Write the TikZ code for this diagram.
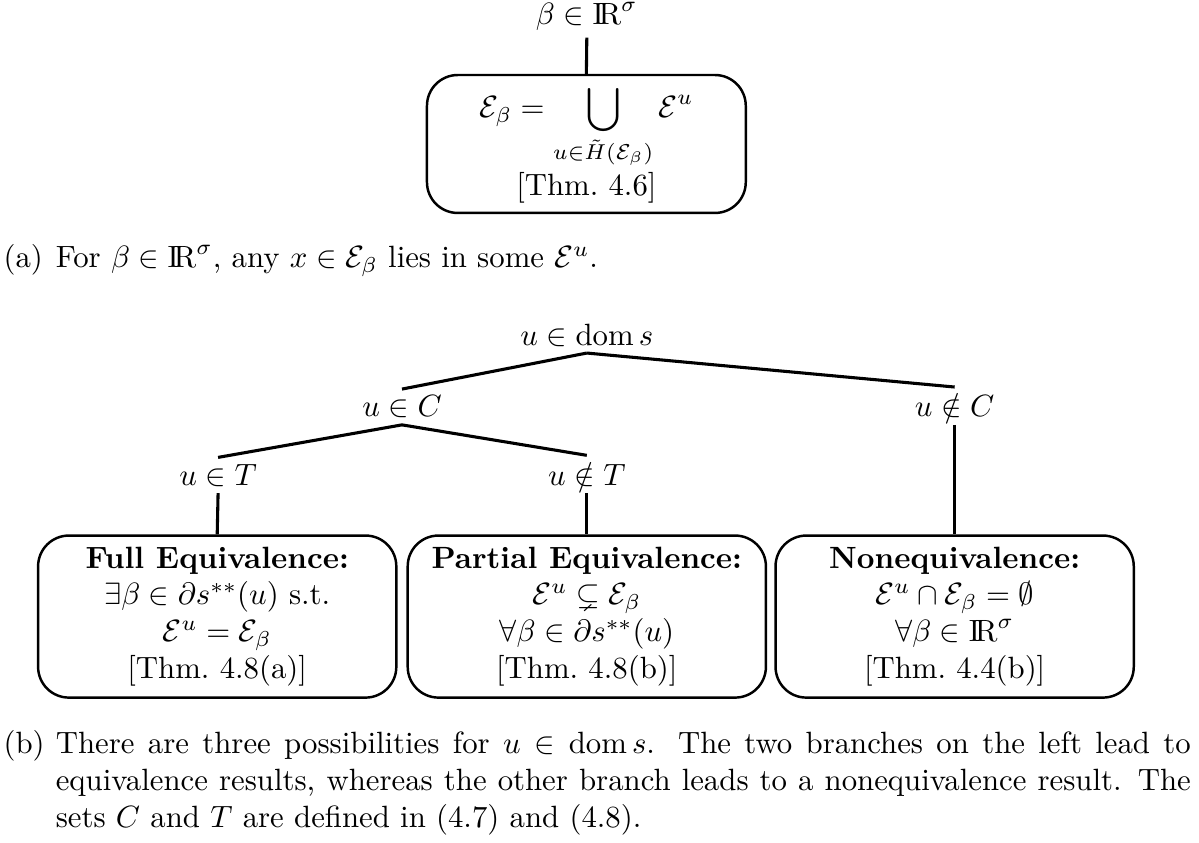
\documentclass[tikz,border=0pt]{standalone}
\usepackage{amsmath,amssymb}
\usepackage{tikz}
\newcommand{\IR}{\mathrm{I\!R}}

\begin{document}
\begin{tikzpicture}[
    box/.style={draw, rounded corners=10pt, line width=0.8pt, minimum width=4.09cm, minimum height=1.85cm, align=center, inner sep=2pt},
    lbl/.style={inner sep=2pt, anchor=base},
    link/.style={line width=1pt},
    captxt/.style={inner sep=0pt, anchor=base west}
]
\useasboundingbox (0,0) rectangle (13.69,-9.62);

\node[lbl] (beta) at (6.70,-0.285) {$\beta\in\IR^\sigma$};
\node[box, minimum width=3.64cm, minimum height=1.575cm] (union) at (6.695,-1.644) {$\displaystyle\mathcal{E}_\beta=\bigcup_{u\in\tilde H(\mathcal{E}_\beta)}\mathcal{E}^u$\\{}[Thm.\ 4.6]};
\draw[link] (beta.south) -- (union.north);

\node[captxt] (taga) at (0.034,-3.06) {(a)};
\node[captxt] (capa) at (0.63,-3.06) {For $\beta\in\IR^\sigma$, any $x\in\mathcal{E}_\beta$ lies in some $\mathcal{E}^u$.};

\node[lbl] (dom) at (6.70,-3.94) {$u\in\operatorname{dom}s$};
\node[lbl] (inc) at (4.59,-4.76) {$u\in C$};
\node[lbl] (notc) at (10.90,-4.76) {$u\notin C$};
\node[lbl] (int) at (2.49,-5.54) {$u\in T$};
\node[lbl] (nott) at (6.70,-5.54) {$u\notin T$};

\node[box] (full) at (2.48,-7.04) {\textbf{Full Equivalence:}\\$\exists\beta\in\partial s^{**}(u)$ s.t.\\$\mathcal{E}^u=\mathcal{E}_\beta$\\{}[Thm.\ 4.8(a)]};
\node[box] (partial) at (6.70,-7.04) {\textbf{Partial Equivalence:}\\$\mathcal{E}^u\subsetneq\mathcal{E}_\beta$\\$\forall\beta\in\partial s^{**}(u)$\\{}[Thm.\ 4.8(b)]};
\node[box] (noneq) at (10.90,-7.04) {\textbf{Nonequivalence:}\\$\mathcal{E}^u\cap\mathcal{E}_\beta=\emptyset$\\$\forall\beta\in\IR^\sigma$\\{}[Thm.\ 4.4(b)]};

\draw[link] (dom.south) -- (inc.north);
\draw[link] (dom.south) -- (notc.north);
\draw[link] (inc.south) -- (int.north);
\draw[link] (inc.south) -- (nott.north);
\draw[link] (int.south) -- (full.north);
\draw[link] (nott.south) -- (partial.north);
\draw[link] (notc.south) -- (noneq.north);

\node[captxt] (tagb) at (0.034,-8.60) {(b)};
\node[captxt, text width=12.96cm, align=justify] (capb) at (0.63,-8.60) {There are three possibilities for $u\in\operatorname{dom}s$. The two branches on the left lead to\linebreak equivalence results, whereas the other branch leads to a nonequivalence result. The\linebreak sets $C$ and $T$ are defined in (4.7) and (4.8).};
\end{tikzpicture}
\end{document}
